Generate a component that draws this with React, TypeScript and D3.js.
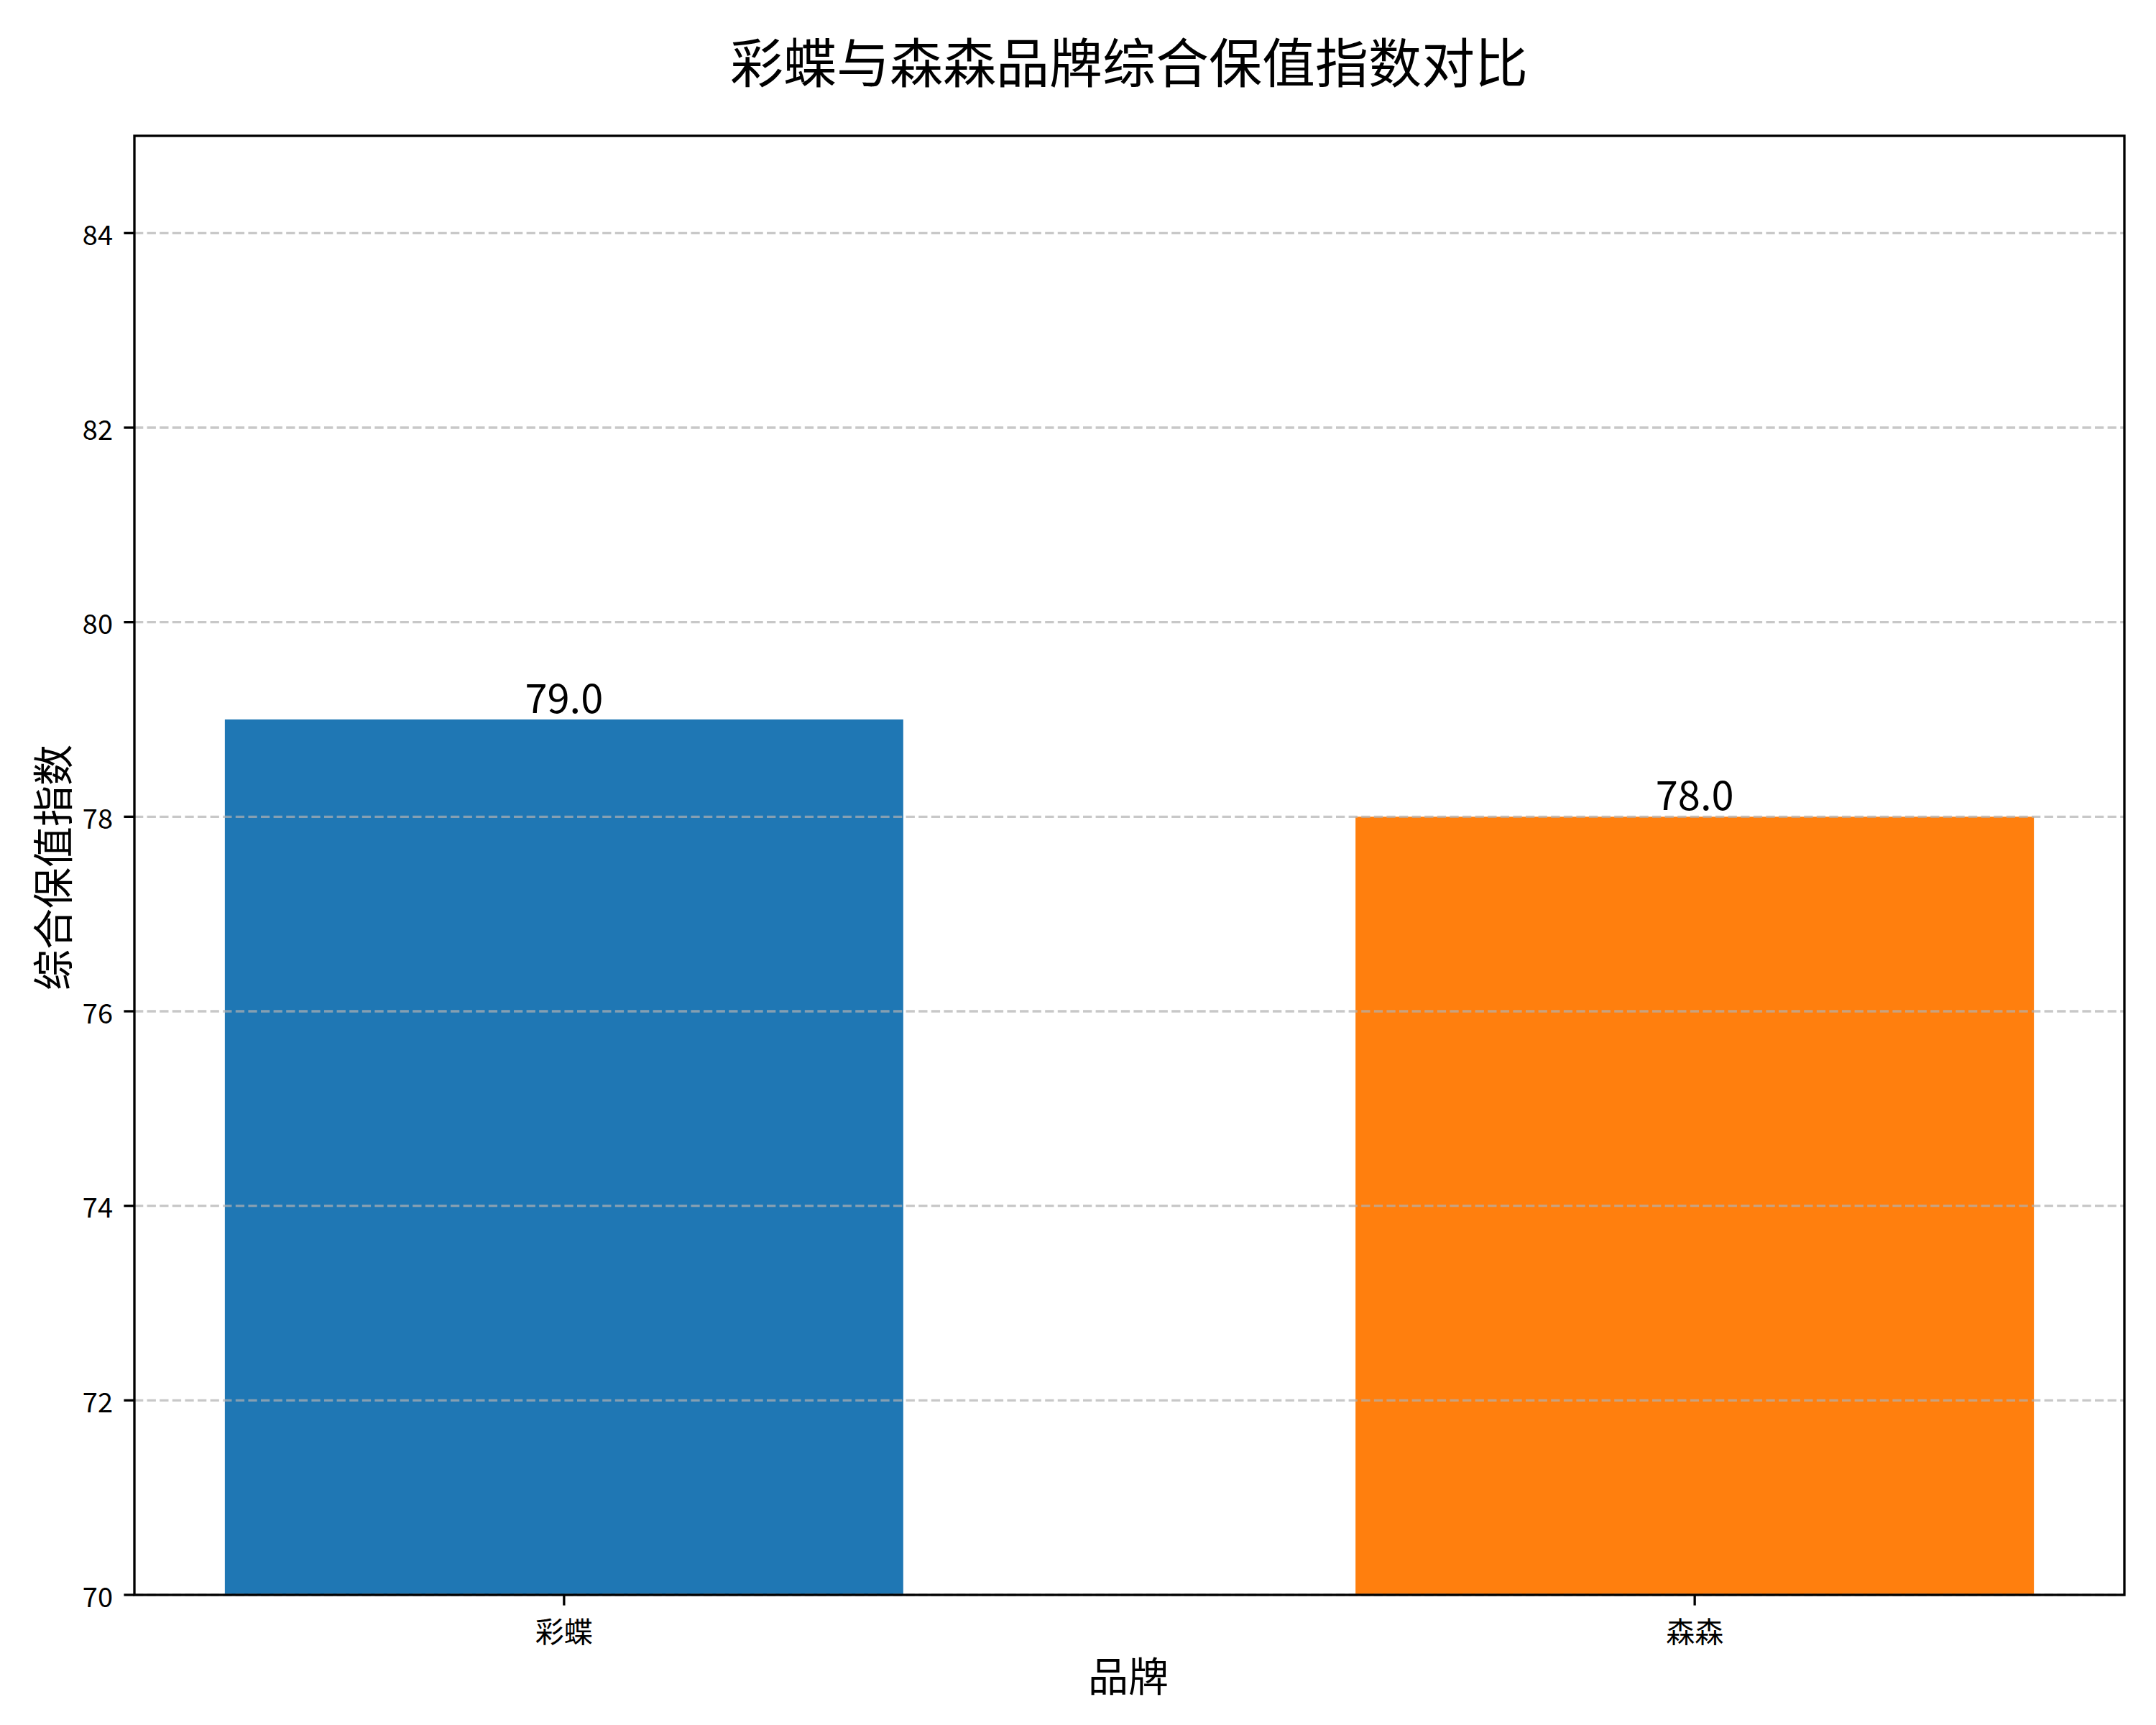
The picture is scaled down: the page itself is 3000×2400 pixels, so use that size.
import React from "react";
import * as d3 from "d3";

const categories = ["彩蝶", "森森"];
const values = [79.0, 78.0];
const colors = ["#1f77b4", "#ff7f0e"];
const yTicks = [70, 72, 74, 76, 78, 80, 82, 84];
const title = "彩蝶与森森品牌综合保值指数对比";
const xLabel = "品牌";
const yLabel = "综合保值指数";

const W = 3000;
const H = 2400;
const m = { left: 187, right: 2956, top: 189, bottom: 2219 };
const FONT = "'Noto Sans CJK SC', 'Noto Sans', sans-serif";

export default function App() {
  const x = d3.scaleLinear().domain([-0.38, 1.38]).range([m.left, m.right]);
  const y = d3.scaleLinear().domain([70, 85]).range([m.bottom, m.top]);
  const barW = 0.6;
  const lw = 3.33;

  return (
    <svg
      width={W}
      height={H}
      viewBox={`0 0 ${W} ${H}`}
      style={{ position: "absolute", left: 0, top: 0, background: "#fff" }}
      fontFamily={FONT}
    >
      <rect x={0} y={0} width={W} height={H} fill="#fff" />
      {/* bars */}
      {categories.map((c, i) => (
        <rect
          key={c}
          x={x(i - barW / 2)}
          y={y(values[i])}
          width={x(i + barW / 2) - x(i - barW / 2)}
          height={y(70) - y(values[i])}
          fill={colors[i]}
        />
      ))}
      {/* grid */}
      {yTicks.map((t) => (
        <line
          key={t}
          x1={m.left}
          x2={m.right}
          y1={y(t)}
          y2={y(t)}
          stroke="#b0b0b0"
          strokeOpacity={0.7}
          strokeWidth={lw}
          strokeDasharray="12.3 5.3"
        />
      ))}
      {/* value labels */}
      {categories.map((c, i) => (
        <text
          key={c}
          x={x(i)}
          y={y(values[i]) - 9}
          textAnchor="middle"
          fontSize={56}
          fill="#000"
        >
          {values[i].toFixed(1)}
        </text>
      ))}
      {/* spines */}
      <rect
        x={m.left}
        y={m.top}
        width={m.right - m.left}
        height={m.bottom - m.top}
        fill="none"
        stroke="#000"
        strokeWidth={lw}
      />
      {/* y ticks */}
      {yTicks.map((t) => (
        <g key={t}>
          <line x1={m.left - 14.6} x2={m.left} y1={y(t)} y2={y(t)} stroke="#000" strokeWidth={lw} />
          <text
            x={m.left - 30}
            y={y(t)}
            textAnchor="end"
            dominantBaseline="central"
            fontSize={38}
            fill="#000"
          >
            {t}
          </text>
        </g>
      ))}
      {/* x ticks */}
      {categories.map((c, i) => (
        <g key={c}>
          <line x1={x(i)} x2={x(i)} y1={m.bottom} y2={m.bottom + 14.6} stroke="#000" strokeWidth={lw} />
          <text
            x={x(i)}
            y={2268}
            textAnchor="middle"
            dominantBaseline="central"
            fontSize={40}
            fill="#000"
          >
            {c}
          </text>
        </g>
      ))}
      {/* axis labels */}
      <text x={1570} y={2328} textAnchor="middle" dominantBaseline="central" fontSize={56} fill="#000">
        {xLabel}
      </text>
      <text
        x={70}
        y={1207}
        textAnchor="middle"
        dominantBaseline="central"
        fontSize={57}
        fill="#000"
        transform="rotate(-90 70 1207)"
      >
        {yLabel}
      </text>
      {/* title */}
      <text x={1571} y={82} textAnchor="middle" dominantBaseline="central" fontSize={74} fill="#000">
        {title}
      </text>
    </svg>
  );
}
